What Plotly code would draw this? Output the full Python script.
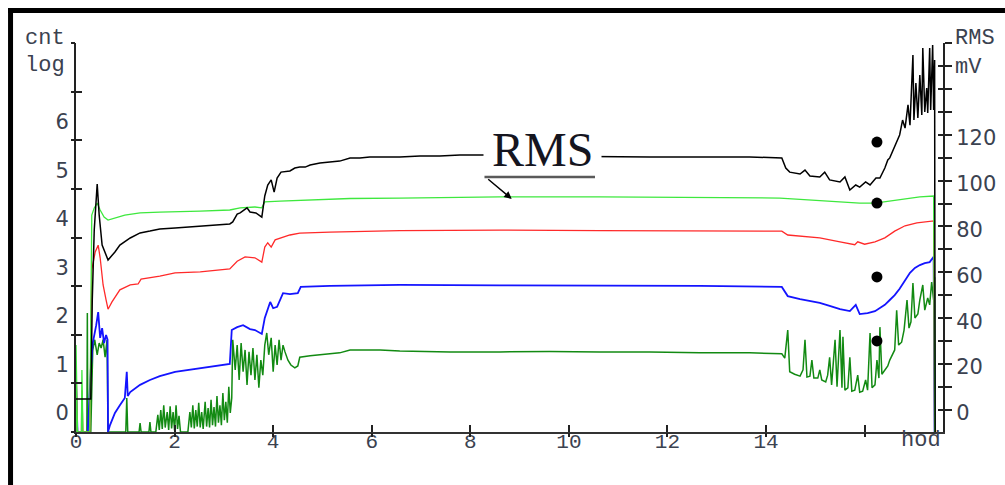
import plotly.graph_objects as go

# ---------------- axis labels ----------------
hour_ticks = [0, 2, 4, 6, 8, 10, 12, 14, 16]
hour_labels = ["0", "2", "4", "6", "8", "10", "12", "14", ""]
cnt_ticks = [0, 1, 2, 3, 4, 5, 6]
cnt_labels = ["0", "1", "2", "3", "4", "5", "6"]
mv_tick_marks = list(range(0, 161, 10))
mv_labelled = [0, 20, 40, 60, 80, 100, 120]

# ---------------- series (x in hours) ----------------
# black line, right axis (mV)
black_h = [0, 0.30, 0.33, 0.37, 0.43, 0.47, 0.53, 0.65, 0.79, 0.89,
           1.10, 1.30, 1.50, 1.70, 2.01, 2.31, 2.52, 2.82, 3.12, 3.18,
           3.27, 3.33, 3.47, 3.53, 3.65, 3.77, 3.83, 3.89, 3.96, 4.02,
           4.08, 4.16, 4.34, 4.44, 4.54, 4.65, 4.75, 4.95, 5.15, 5.35,
           5.56, 5.76, 5.96, 6.27, 6.57, 6.98, 7.38, 7.79, 8.20, 8.60,
           9.21, 10.63, 11.64, 12.66, 13.67, 14.32, 14.40, 14.48, 14.69, 14.79,
           14.89, 15.09, 15.19, 15.29, 15.50, 15.60, 15.70, 15.82, 15.90, 16.02,
           16.11, 16.23, 16.31, 16.41, 16.47, 16.51, 16.61, 16.71, 16.77, 16.82,
           16.88, 16.92, 16.98, 17.00, 17.04, 17.08, 17.12, 17.16, 17.18, 17.22,
           17.26, 17.28, 17.32, 17.34, 17.38, 17.40, 17.42, 17.43]
black_mv = [4.8, 4.8, 48.0, 78.5, 98.5, 85.0, 71.9, 65.4, 68.9, 71.9,
            75.0, 77.2, 78.0, 78.9, 79.3, 79.8, 80.2, 80.6, 81.1, 82.0,
            85.4, 85.9, 88.1, 86.3, 85.9, 84.1, 93.3, 98.1, 100.3, 95.0,
            101.1, 103.7, 104.2, 105.5, 105.9, 105.9, 106.8, 107.7, 108.1, 108.5,
            109.9, 109.9, 110.3, 110.3, 110.3, 110.7, 110.7, 111.2, 111.2, 111.2,
            110.7, 110.3, 110.3, 110.3, 110.3, 109.9, 105.5, 103.7, 102.9, 104.6,
            102.0, 101.6, 103.7, 100.3, 99.4, 101.6, 95.9, 98.1, 97.2, 99.4,
            98.1, 101.1, 101.1, 105.5, 109.0, 109.9, 114.6, 119.9, 126.4, 122.9,
            133.0, 124.2, 154.8, 126.4, 142.5, 127.3, 146.0, 128.6, 157.8, 129.9,
            140.4, 129.5, 157.8, 130.8, 159.1, 130.8, 152.6, -9.6]

# light green line, right axis (mV)
lime_h = [0, 0.001, 0.03, 0.11, 0.12, 0.14, 0.28, 0.32, 0.37, 0.43,
          0.49, 0.57, 0.65, 0.79, 0.99, 1.30, 1.70, 2.52, 3.12, 3.33,
          3.63, 3.77, 3.83, 4.14, 4.54, 5.56, 6.57, 8.60, 10.63, 12.66,
          14.28, 14.69, 15.29, 15.90, 16.21, 16.51, 16.82, 17.12, 17.40, 17.42]
lime_mv = [-9.6, 28.3, -9.6, -9.6, 17.4, -9.6, -9.6, 85.0, 88.1, 90.2,
           87.2, 84.1, 82.8, 83.7, 85.0, 85.9, 86.3, 86.7, 87.2, 88.1,
           88.5, 88.1, 90.7, 91.1, 91.5, 92.2, 92.4, 92.9, 92.9, 92.6,
           92.4, 91.8, 91.1, 90.2, 90.2, 91.1, 92.2, 92.9, 93.3, -9.6]

# red line, left axis (cnt log)
red_h = [0, 0.001, 0.03, 0.11, 0.12, 0.14, 0.28, 0.32, 0.39, 0.45,
         0.49, 0.55, 0.61, 0.65, 0.73, 0.89, 1.10, 1.26, 1.32, 1.70,
         2.01, 2.52, 3.12, 3.18, 3.27, 3.43, 3.63, 3.77, 3.83, 3.89,
         3.96, 4.04, 4.20, 4.34, 4.54, 5.15, 6.57, 8.60, 10.63, 12.66,
         14.32, 14.44, 14.69, 15.09, 15.50, 15.80, 15.86, 16.00, 16.21, 16.41,
         16.61, 16.82, 17.06, 17.40, 17.42]
red_cnt = [-0.39, 0.95, -0.39, -0.39, 0.47, -0.39, -0.39, 2.95, 3.32, 3.46,
           3.20, 2.64, 2.33, 2.14, 2.29, 2.54, 2.64, 2.66, 2.76, 2.82,
           2.89, 2.91, 2.97, 3.03, 3.13, 3.22, 3.20, 3.11, 3.42, 3.51,
           3.42, 3.57, 3.63, 3.67, 3.71, 3.73, 3.76, 3.77, 3.76, 3.75,
           3.75, 3.67, 3.65, 3.61, 3.53, 3.47, 3.53, 3.48, 3.53, 3.61,
           3.75, 3.86, 3.92, 3.96, -0.39]

# blue line, left axis (cnt log)
blue_h = [0, 0.001, 0.03, 0.24, 0.30, 0.34, 0.41, 0.45, 0.49, 0.53,
          0.57, 0.61, 0.64, 0.65, 0.69, 0.79, 0.89, 0.99, 1.03, 1.05,
          1.10, 1.30, 1.50, 1.70, 2.01, 2.31, 2.52, 2.82, 3.12, 3.16,
          3.27, 3.39, 3.53, 3.63, 3.77, 3.83, 3.94, 4.00, 4.08, 4.20,
          4.34, 4.50, 4.56, 5.15, 6.57, 8.60, 10.63, 12.66, 14.32, 14.44,
          14.69, 14.89, 15.09, 15.29, 15.50, 15.70, 15.82, 15.90, 16.06, 16.21,
          16.31, 16.41, 16.51, 16.61, 16.71, 16.82, 16.92, 17.02, 17.12, 17.22,
          17.32, 17.40, 17.42]
blue_cnt = [-0.39, 0.62, -0.39, -0.39, 0.89, 1.44, 1.81, 2.08, 1.55, 1.75,
            1.44, 1.61, 1.51, -0.39, -0.25, 0.0, 0.16, 0.31, 0.85, 0.35,
            0.43, 0.58, 0.68, 0.76, 0.85, 0.89, 0.93, 0.97, 1.01, 1.71,
            1.77, 1.81, 1.73, 1.71, 1.63, 1.96, 2.29, 2.16, 2.19, 2.47,
            2.45, 2.47, 2.60, 2.62, 2.64, 2.63, 2.63, 2.62, 2.60, 2.41,
            2.35, 2.31, 2.27, 2.21, 2.14, 2.10, 2.23, 2.04, 2.06, 2.10,
            2.16, 2.23, 2.33, 2.43, 2.56, 2.74, 2.89, 2.99, 3.05, 3.09,
            3.11, 3.22, -0.39]

# dark green line, left axis (cnt log)
green_h = [0.00, 0.22, 0.23, 0.24, 0.30, 0.34, 0.38, 0.43, 0.47, 0.51,
           0.55, 0.59, 0.63, 0.65, 1.01, 1.03, 1.05, 1.28, 1.30, 1.32,
           1.48, 1.50, 1.52, 1.62, 1.66, 1.69, 1.72, 1.75, 1.78, 1.81,
           1.85, 1.88, 1.91, 1.94, 1.97, 2.00, 2.03, 2.06, 2.09, 2.12,
           2.27, 2.31, 2.34, 2.37, 2.40, 2.43, 2.46, 2.49, 2.52, 2.55,
           2.58, 2.62, 2.65, 2.68, 2.71, 2.74, 2.77, 2.80, 2.83, 2.86,
           2.89, 2.92, 2.95, 2.98, 3.01, 3.04, 3.07, 3.10, 3.13, 3.16,
           3.18, 3.23, 3.27, 3.31, 3.35, 3.39, 3.43, 3.47, 3.51, 3.55,
           3.59, 3.63, 3.67, 3.71, 3.75, 3.79, 3.83, 3.87, 3.91, 3.96,
           4.00, 4.04, 4.08, 4.12, 4.16, 4.20, 4.24, 4.30, 4.36, 4.44,
           4.50, 4.54, 4.75, 4.95, 5.15, 5.35, 5.56, 6.17, 6.57, 7.59,
           8.60, 9.61, 10.63, 11.64, 12.66, 13.67, 14.32, 14.38, 14.44, 14.48,
           14.58, 14.69, 14.75, 14.79, 14.83, 14.89, 14.93, 14.97, 15.05, 15.09,
           15.13, 15.21, 15.25, 15.29, 15.33, 15.40, 15.44, 15.50, 15.54, 15.56,
           15.60, 15.66, 15.70, 15.74, 15.80, 15.86, 15.90, 15.96, 16.02, 16.06,
           16.11, 16.15, 16.21, 16.25, 16.29, 16.31, 16.35, 16.41, 16.47, 16.51,
           16.57, 16.61, 16.65, 16.69, 16.75, 16.80, 16.86, 16.90, 16.94, 16.98,
           17.02, 17.08, 17.12, 17.18, 17.22, 17.28, 17.32, 17.36, 17.40, 17.42,
           17.43]
green_cnt = [-0.39, -0.39, 2.06, -0.39, -0.39, 1.30, 1.51, 1.20, 1.44, 1.34,
             1.51, 1.15, 1.51, -0.39, -0.39, 0.31, -0.39, -0.39, -0.21, -0.39,
             -0.39, -0.19, -0.39, -0.39, -0.04, -0.35, 0.06, -0.33, 0.16, -0.30,
             0.02, -0.35, 0.14, -0.32, 0.02, -0.36, 0.16, -0.33, -0.06, -0.39,
             -0.39, 0.02, -0.30, 0.16, -0.32, 0.06, -0.28, 0.21, -0.30, 0.02,
             -0.33, 0.23, -0.28, 0.10, -0.30, 0.27, -0.25, 0.12, -0.28, 0.35,
             -0.20, 0.16, -0.25, 0.41, -0.15, 0.23, -0.20, 0.54, 0.00, 0.31,
             1.51, 0.89, 1.40, 0.68, 1.44, 0.85, 1.30, 0.58, 1.26, 0.78,
             1.34, 0.68, 1.20, 0.52, 1.09, 0.78, 1.40, 1.65, 1.20, 1.55,
             0.85, 1.40, 0.99, 1.51, 1.09, 1.40, 1.26, 1.09, 0.99, 0.93,
             0.97, 1.15, 1.18, 1.20, 1.22, 1.24, 1.30, 1.30, 1.28, 1.26,
             1.26, 1.27, 1.26, 1.26, 1.24, 1.24, 1.22, 1.13, 1.71, 0.85,
             0.80, 0.76, 0.89, 1.51, 0.74, 0.76, 1.09, 0.72, 0.72, 0.89,
             0.68, 0.64, 0.78, 1.15, 0.58, 1.51, 0.54, 1.71, 0.52, 1.57,
             0.47, 0.52, 1.15, 0.45, 0.47, 0.78, 0.43, 0.45, 0.68, 0.47,
             1.65, 0.52, 0.58, 1.09, 0.72, 1.77, 0.80, 0.89, 0.97, 1.09,
             1.20, 1.30, 2.12, 1.40, 1.46, 1.71, 2.33, 1.75, 1.88, 2.68,
             1.96, 2.04, 2.33, 2.64, 2.12, 2.37, 2.23, 2.70, 2.33, 2.80,
             -0.39]

# black dots (right axis, mV)
dot_h = [16.25, 16.25, 16.25, 16.25]
dot_mv = [116.8, 90.2, 58.0, 30.1]

# arrow target of the "RMS" callout
arrow_h = 8.84
arrow_mv = 92.0

X_RANGE = [0, 17.59]
CNT_RANGE = [-0.392, 7.629]
MV_RANGE = [-9.6, 160]
TXT = "#3b4250"
AX = "#222222"

fig = go.Figure()
fig.add_trace(go.Scatter(x=green_h, y=green_cnt, mode="lines",
                         line=dict(color="#128a12", width=1.5), yaxis="y"))
fig.add_trace(go.Scatter(x=blue_h, y=blue_cnt, mode="lines",
                         line=dict(color="#1414ff", width=1.8), yaxis="y"))
fig.add_trace(go.Scatter(x=red_h, y=red_cnt, mode="lines",
                         line=dict(color="#ff2a2a", width=1.3), yaxis="y"))
fig.add_trace(go.Scatter(x=lime_h, y=lime_mv, mode="lines",
                         line=dict(color="#3ee83e", width=1.3), yaxis="y2"))
fig.add_trace(go.Scatter(x=black_h, y=black_mv, mode="lines",
                         line=dict(color="#000000", width=1.5), yaxis="y2"))
fig.add_trace(go.Scatter(x=dot_h, y=dot_mv, mode="markers",
                         marker=dict(color="black", size=11), yaxis="y2"))
# empty traces so that the tick-only overlay axes are drawn
fig.add_trace(go.Scatter(x=[], y=[], xaxis="x2", yaxis="y"))
fig.add_trace(go.Scatter(x=[], y=[], yaxis="y3"))
fig.add_trace(go.Scatter(x=[], y=[], yaxis="y4"))
fig.add_trace(go.Scatter(x=[], y=[], yaxis="y5"))

mv_text = [str(v) if v in mv_labelled else "" for v in mv_tick_marks]

common = dict(showgrid=False, zeroline=False, fixedrange=True, automargin=False)

fig.update_layout(
    template="none",
    width=1005, height=485, autosize=False,
    margin=dict(l=76, r=62, t=43, b=53, pad=0, autoexpand=False),
    paper_bgcolor="white", plot_bgcolor="white",
    showlegend=False, hovermode=False,
    xaxis=dict(range=X_RANGE, tickmode="array", tickvals=hour_ticks, ticktext=hour_labels,
               ticks="inside", ticklen=7, tickwidth=1.5, tickcolor=AX,
               showline=True, linecolor="#333333", linewidth=2,
               tickfont=dict(family="Liberation Mono", size=21, color=TXT),
               ticklabelstandoff=-11, **common),
    xaxis2=dict(overlaying="x", anchor="y", range=X_RANGE, tickmode="array", tickvals=hour_ticks,
                ticks="outside", ticklen=4, tickwidth=1.5, tickcolor=AX,
                showticklabels=False, showline=False, **common),
    yaxis=dict(range=CNT_RANGE, tickmode="array", tickvals=cnt_ticks, ticktext=cnt_labels,
               ticks="", showline=True, linecolor=AX, linewidth=2,
               tickfont=dict(family="DejaVu Sans", size=21, color=TXT),
               ticklabelstandoff=1, **common),
    yaxis3=dict(overlaying="y", side="left", anchor="x", range=[0, 8], tickmode="linear",
                tick0=0, dtick=1, ticks="outside", ticklen=4, tickwidth=1.5, tickcolor=AX,
                showticklabels=False, showline=False, **common),
    yaxis4=dict(overlaying="y", side="left", anchor="x", range=[0, 8], tickmode="linear",
                tick0=0, dtick=1, ticks="inside", ticklen=6, tickwidth=1.5, tickcolor=AX,
                showticklabels=False, showline=False, **common),
    yaxis2=dict(overlaying="y", side="right", anchor="x", range=MV_RANGE, tickmode="array",
                tickvals=mv_tick_marks, ticktext=mv_text,
                ticks="outside", ticklen=7, tickwidth=1.5, tickcolor=AX,
                showline=True, linecolor=AX, linewidth=2,
                tickfont=dict(family="DejaVu Sans", size=21, color=TXT),
                ticklabelshift=3, **common),
    yaxis5=dict(overlaying="y", side="right", anchor="x", range=MV_RANGE, tickmode="array",
                tickvals=mv_tick_marks, ticks="inside", ticklen=5, tickwidth=1.5, tickcolor=AX,
                showticklabels=False, showline=False, **common),
)

mono = dict(family="Liberation Mono", size=22, color=TXT)
ann = [
    dict(text="cnt", xref="paper", yref="paper", x=-0.0104, y=1.0103,
         xanchor="right", yanchor="middle", showarrow=False, font=mono),
    dict(text="log", xref="paper", yref="paper", x=-0.0104, y=0.9434,
         xanchor="right", yanchor="middle", showarrow=False, font=mono),
    dict(text="RMS", xref="paper", yref="paper", x=1.0115, y=1.0103,
         xanchor="left", yanchor="middle", showarrow=False, font=mono),
    dict(text="mV", xref="paper", yref="paper", x=1.0115, y=0.9383,
         xanchor="left", yanchor="middle", showarrow=False, font=mono),
    dict(text="hod", xref="paper", yref="paper", x=1.0, y=-0.0206,
         xanchor="right", yanchor="middle", showarrow=False, font=mono),
    dict(text="RMS", xref="paper", yref="paper", x=0.5375, y=0.725,
         xanchor="center", yanchor="middle", showarrow=False, bgcolor="white", borderpad=8,
         font=dict(family="Liberation Serif", size=48, color="#15151f")),
    # underline of the callout (drawn as a headless arrow)
    dict(text="", xref="paper", yref="paper", x=0.5986, y=0.6555, ax=-112, ay=0,
         showarrow=True, arrowhead=0, arrowwidth=2.5, arrowcolor="#5a5a5a",
         standoff=0, startstandoff=0),
    dict(text="", x=arrow_h, y=arrow_mv, xref="x", yref="y2", ax=-25, ay=-21,
         showarrow=True, arrowhead=2, arrowsize=1, arrowwidth=1.5, arrowcolor="black", standoff=0),
]
fig.update_layout(annotations=ann)

fig.update_layout(shapes=[
    dict(type="line", xref="paper", yref="paper", x0=-0.0784, x1=1.0715, y0=1.0835, y1=1.0835,
         line=dict(color="black", width=5)),
    dict(type="line", xref="paper", yref="paper", x0=-0.0755, x1=-0.0755, y0=-0.14, y1=1.09,
         line=dict(color="black", width=5)),
])

fig.write_html("out.html")
